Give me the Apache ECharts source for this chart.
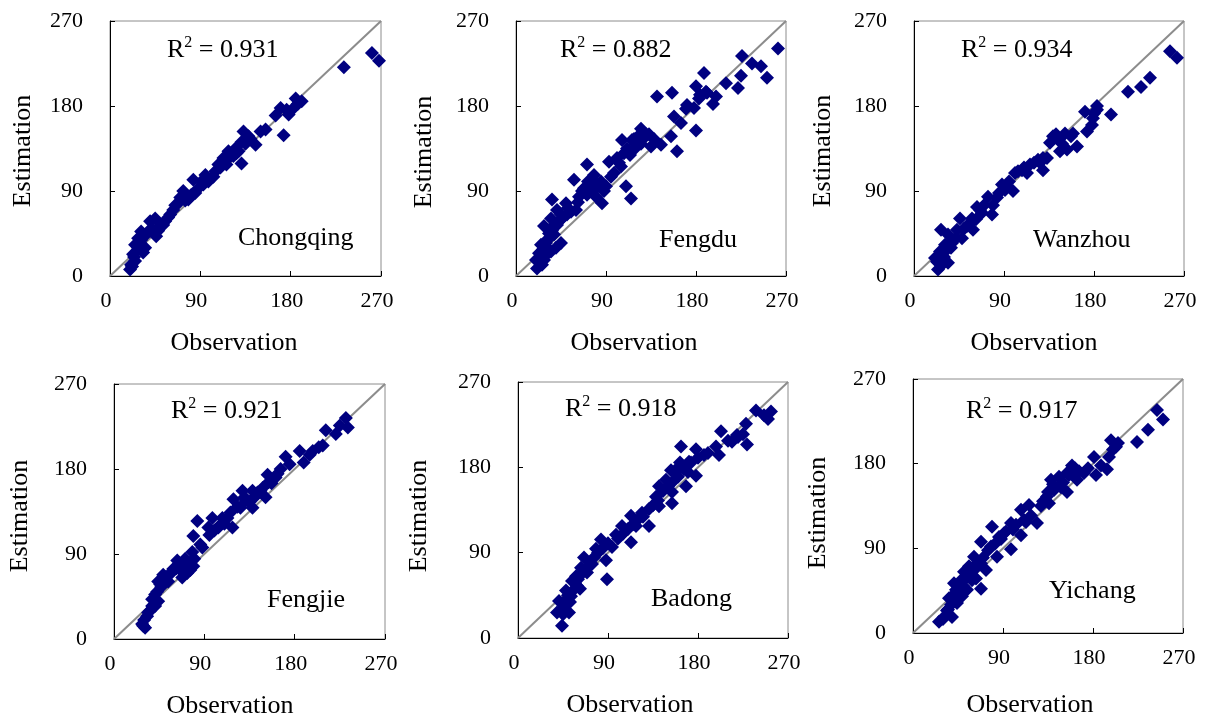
<!DOCTYPE html>
<html>
<head>
<meta charset="utf-8">
<script src="https://cdn.jsdelivr.net/npm/echarts@6/dist/echarts.min.js"></script>
<style>
html,body{margin:0;padding:0;background:#fff;}
#chart{width:1211px;height:725px;}
</style>
</head>
<body>
<div id="chart"></div>
<script>
// ---- Data (observation, estimation) ----
var stations = ['Chongqing','Fengdu','Wanzhou','Fengjie','Badong','Yichang'];
var r2Values = ['0.931','0.882','0.934','0.921','0.918','0.917'];
var axisTicks = [0, 90, 180, 270];

var chongqing = [[261,236],[268,228],[233,221],[185,188],[191,185],[170,178],[165,170],[178,171],[173,149],[155,155],[150,153],[133,153],[145,139],[131,142],[131,119],[128,132],[118,132],[113,125],[108,118],[116,118],[105,111],[95,107],[98,100],[83,102],[88,93],[81,86],[78,81],[68,77],[63,70],[60,65],[53,54],[45,61],[40,58],[46,42],[38,47],[31,47],[31,38],[28,30],[25,33],[23,23],[21,12],[20,7],[25,16],[35,30],[73,90],[91,100],[103,105],[121,128],[125,135],[65,75],[70,83],[85,88],[110,115],[123,127],[100,103],[28,40],[33,25],[42,50],[50,53],[140,145],[183,178],
  [22,10],[24,20],[27,27],[30,35],[32,42],[36,44],[44,45],[48,48],[55,58],[58,62],[75,80],[80,84],[93,97],[96,104],[112,120],[115,124],[118,125],[126,130],[135,140],[138,148],[176,176],[187,182]];
var fengdu = [[262,241],[226,233],[236,225],[245,222],[251,210],[225,212],[222,199],[210,204],[188,215],[180,201],[191,194],[197,182],[183,188],[171,181],[178,178],[156,194],[141,190],[158,169],[165,162],[180,154],[155,148],[161,132],[145,139],[135,137],[125,156],[123,149],[128,146],[116,144],[106,144],[111,135],[118,134],[101,125],[93,121],[98,109],[110,95],[115,82],[105,116],[71,118],[78,107],[58,102],[68,93],[81,97],[88,90],[86,77],[80,84],[71,86],[63,84],[50,77],[36,81],[41,70],[60,70],[51,65],[35,61],[28,53],[41,54],[38,44],[31,38],[25,33],[45,35],[35,26],[23,24],[20,17],[28,17],[21,8],[31,30],[40,30],[26,12],[120,140],[130,150],[75,95],[85,100],[45,65],[33,45],[30,22],[114,128],[190,195],
  [24,20],[27,28],[30,35],[33,40],[36,48],[39,55],[43,58],[47,62],[52,72],[55,68],[62,78],[66,90],[72,100],[78,92],[83,95],[90,95],[95,105],[103,120],[108,130],[113,133],[118,145],[125,140],[133,150],[138,145],[200,190],[170,177],[184,192]];
var wanzhou = [[256,238],[263,231],[236,210],[227,200],[214,195],[197,171],[171,174],[183,176],[179,167],[178,160],[173,153],[159,151],[151,151],[139,148],[136,141],[146,132],[153,134],[163,137],[129,125],[124,123],[129,112],[116,118],[113,109],[104,111],[101,109],[99,90],[88,97],[91,91],[83,83],[74,84],[78,65],[79,75],[63,73],[68,67],[58,61],[46,61],[59,49],[53,53],[43,49],[34,44],[27,49],[39,38],[31,33],[26,26],[21,19],[28,12],[34,14],[24,7],[48,40],[120,120],[145,145],[95,100],[70,75],[37,30],
  [23,15],[30,20],[33,28],[38,35],[42,40],[50,50],[55,55],[62,60],[66,70],[85,88],[93,95],[108,112],[110,115],[126,120],[133,125],[142,150],[148,140],[157,148],[180,172],[183,180]];
var fengjie = [[231,234],[233,224],[221,217],[211,221],[204,203],[198,199],[185,199],[189,187],[171,193],[166,180],[161,171],[153,174],[154,166],[146,157],[151,150],[138,157],[128,157],[119,148],[131,146],[126,139],[138,139],[116,134],[108,128],[118,118],[98,128],[83,125],[94,118],[104,118],[79,109],[86,100],[78,92],[63,83],[69,77],[78,83],[59,74],[68,65],[49,68],[44,61],[54,61],[41,47],[44,40],[36,30],[33,24],[28,16],[31,12],[41,35],[73,70],[79,77],[65,80],[71,85],[110,122],[140,150],[47,55],[38,42],
  [29,14],[30,20],[34,28],[38,35],[40,42],[43,50],[46,58],[50,63],[52,66],[57,70],[62,75],[66,73],[70,72],[74,80],[76,73],[80,85],[88,97],[95,110],[100,115],[105,120],[113,128],[123,140],[130,150],[135,145],[143,155],[148,160],[157,165],[163,175],[175,185],[195,195],[208,205],[225,226]];
var badong = [[238,240],[246,235],[253,239],[250,231],[228,226],[203,218],[219,214],[214,207],[229,204],[198,202],[201,193],[186,193],[163,202],[178,199],[171,186],[178,171],[161,181],[153,177],[148,167],[168,160],[154,154],[141,160],[138,149],[154,142],[141,139],[131,136],[124,132],[131,118],[113,129],[104,118],[118,118],[113,101],[98,109],[94,96],[83,104],[78,94],[88,82],[89,62],[66,85],[74,78],[63,74],[69,69],[54,60],[59,55],[48,50],[53,44],[41,39],[44,30],[39,27],[51,27],[44,13],[160,170],[165,180],[170,175],[145,155],[120,125],[58,65],[48,40],
  [45,25],[47,35],[50,45],[52,38],[55,50],[57,58],[60,62],[62,52],[64,68],[67,72],[70,75],[72,80],[76,85],[80,90],[85,95],[90,100],[100,105],[105,110],[110,115],[115,120],[125,128],[135,140],[140,145],[150,160],[155,165],[158,175],[162,185],[166,178],[173,185],[180,190],[190,195],[210,208],[220,212],[225,215]];
var yichang = [[244,237],[250,227],[235,216],[224,203],[198,205],[203,198],[196,187],[181,187],[194,174],[183,168],[171,170],[159,178],[154,170],[164,163],[146,166],[138,163],[141,152],[154,150],[134,145],[136,138],[116,136],[108,131],[124,117],[111,120],[98,117],[91,106],[108,104],[79,113],[86,102],[68,97],[78,92],[98,89],[84,81],[61,81],[68,74],[73,67],[56,71],[51,65],[48,56],[59,56],[68,47],[54,46],[43,46],[41,53],[49,39],[36,37],[44,32],[34,24],[39,17],[26,12],[31,17],[150,160],[160,172],[130,140],[100,110],[55,60],[62,68],[46,50],
  [30,15],[35,25],[38,30],[40,40],[44,38],[46,44],[50,50],[52,58],[55,65],[58,62],[60,70],[63,58],[65,75],[70,80],[75,88],[82,95],[88,100],[93,108],[103,115],[113,118],[118,125],[128,135],[135,150],[140,158],[148,155],[156,168],[162,175],[166,172],[175,175],[188,178],[200,195],[205,202]];
var stationData = [chongqing, fengdu, wanzhou, fengjie, badong, yichang];
var oneToOne = [[0,0],[270,270]];

// ---- Layout ----
var FONT = "'Liberation Serif','Times New Roman',serif";
var grids = [
  {left:110, top:21,  width:271, height:255},
  {left:516, top:21,  width:270, height:255},
  {left:914, top:21,  width:270, height:255},
  {left:114, top:384, width:271, height:255},
  {left:518, top:382, width:270, height:256},
  {left:913, top:379, width:270, height:254}
];
var estPos = [[23,151],[424,152],[823,151],[20,516],[419,516],[818,513]];
var obsPos = [[234,343],[634,343],[1034,343],[230,706],[630,705],[1030,705]];
var r2Pos = [[167,50],[560,50],[961,50],[171,411],[565,409],[966,411]];
var namePos = [[238,238],[659,240],[1033,240],[267,600],[651,599],[1049,591]];

var option = {
  backgroundColor:'#fff',
  animation:false,
  grid:[], xAxis:[], yAxis:[], series:[], graphic:[]
};

function axisCommon(isX){
  return {
    type:'value', min:0, max:270, interval:90,
    axisLine:{show:true, onZero:false, lineStyle:{color:'#000', width:1}},
    axisTick:{show:true, inside:true, length:5, lineStyle:{color:'#000'}},
    splitLine:{show:false},
    axisLabel:isX ? {fontFamily:FONT, fontSize:22, color:'#000', margin:14, padding:[0,8,0,0]}
                  : {fontFamily:FONT, fontSize:22, color:'#000', margin:27}
  };
}

for (var i=0;i<6;i++){
  var g = grids[i];
  option.grid.push({left:g.left, top:g.top, width:g.width, height:g.height,
    show:true, borderColor:'#8c8c8c', borderWidth:1, backgroundColor:'transparent'});
  var xa = axisCommon(true); xa.gridIndex=i; option.xAxis.push(xa);
  var ya = axisCommon(false); ya.gridIndex=i; option.yAxis.push(ya);
  option.series.push({type:'line', xAxisIndex:i, yAxisIndex:i, data:oneToOne,
    symbol:'none', lineStyle:{color:'#8c8c8c', width:2}, z:1, silent:true});
  option.series.push({type:'scatter', xAxisIndex:i, yAxisIndex:i, data:stationData[i],
    symbol:'diamond', symbolSize:14, itemStyle:{color:'#000080', opacity:1}, z:3});

  option.graphic.push({type:'text', x:estPos[i][0], y:estPos[i][1], rotation:Math.PI/2,
    style:{text:'Estimation', fontFamily:FONT, fontSize:26, fill:'#000',
      align:'center', verticalAlign:'middle', textAlign:'center', textVerticalAlign:'middle'}});
  option.graphic.push({type:'text', x:obsPos[i][0], y:obsPos[i][1],
    style:{text:'Observation', fontFamily:FONT, fontSize:26, fill:'#000',
      align:'center', verticalAlign:'middle', textAlign:'center', textVerticalAlign:'middle'}});
  option.graphic.push({type:'text', x:namePos[i][0], y:namePos[i][1], z:10,
    style:{text:stations[i], fontFamily:FONT, fontSize:26, fill:'#000',
      align:'left', verticalAlign:'middle', textAlign:'left', textVerticalAlign:'middle'}});
  option.graphic.push({type:'text', x:r2Pos[i][0], y:r2Pos[i][1], z:10,
    style:{text:'{a|R}{s|2}{a| = ' + r2Values[i] + '}', fill:'#000',
      align:'left', verticalAlign:'middle', textAlign:'left', textVerticalAlign:'middle',
      rich:{
        a:{fontFamily:FONT, fontSize:26, fill:'#000', color:'#000', lineHeight:30},
        s:{fontFamily:FONT, fontSize:16, fill:'#000', color:'#000', verticalAlign:'top', lineHeight:30, padding:[0,0,12,0]}
      }}});
}

var chart = echarts.init(document.getElementById('chart'), null, {renderer:'canvas'});
chart.setOption(option);
</script>
</body>
</html>
